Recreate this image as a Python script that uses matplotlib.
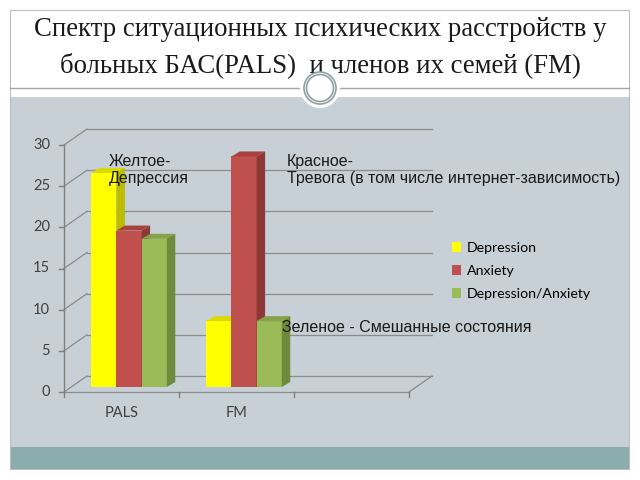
import matplotlib
matplotlib.use("Agg")
import matplotlib.pyplot as plt
from matplotlib.patches import Rectangle, Circle, Polygon, Patch
from matplotlib.transforms import Affine2D, IdentityTransform
from matplotlib.lines import Line2D

# ---------------- data ----------------
categories = ["PALS", "FM", ""]
series_names = ["Depression", "Anxiety", "Depression/Anxiety"]
depression = [26, 8]
anxiety = [19, 28]
mixed = [18, 8]
y_ticks = [0, 5, 10, 15, 20, 25, 30]

title_lines = ["Спектр ситуационных психических расстройств у",
               "больных БАС(PALS)  и членов их семей (FM)"]
note_yellow = "Желтое-\nДепрессия"
note_red = "Красное-\nТревога (в том числе интернет-зависимость)"
note_green = "Зеленое - Смешанные состояния"

front_cols = ["#FFFF00", "#C0504D", "#9BBB59"]
top_cols = ["#DADA00", "#A8423F", "#86A34B"]
side_cols = ["#BDBD00", "#8E3835", "#6E8A3C"]

W, H = 640, 480
fig = plt.figure(figsize=(6.4, 4.8), dpi=100)
fig.patch.set_facecolor("white")

# ---------------- slide background (pixel coords) ----------------
bg = fig.add_axes([0, 0, 1, 1], zorder=0)
bg.set_xlim(0, W)
bg.set_ylim(H, 0)
bg.axis("off")
bg.add_patch(Rectangle((10, 97), 619, 350, facecolor="#C6D0D6", edgecolor="none"))
bg.add_patch(Rectangle((10, 447), 619, 22, facecolor="#89ACAC", edgecolor="none"))
bg.add_patch(Rectangle((10, 10), 619, 459, facecolor="none", edgecolor="#BDBDBD", lw=0.8))
bg.plot([10, 629], [88, 88], color="#A8A8A8", lw=1.0)
bg.add_patch(Circle((320, 88), 20, facecolor="white", edgecolor="none", zorder=3))
bg.add_patch(Circle((320, 88), 16, facecolor="white", edgecolor="#8FA0A0", lw=1.2, zorder=4))
bg.add_patch(Circle((320, 88), 13.5, facecolor="white", edgecolor="#8FA0A0", lw=1.2, zorder=4))
bg.text(320, 30, title_lines[0], ha="center", va="center",
        fontsize=19.3, family="Liberation Serif", color="#1A1A1A")
bg.text(320, 65, title_lines[1], ha="center", va="center",
        fontsize=19.3, family="Liberation Serif", color="#1A1A1A")

# ---------------- chart axes (front plane) ----------------
x0, x1, yb, yt = 64, 409, 392, 145
ax = fig.add_axes([x0 / W, (H - yb) / H, (x1 - x0) / W, (yb - yt) / H], zorder=1)
ax.set_xlim(0, 3)
ax.set_ylim(0, 30)
ax.axis("off")
ax.patch.set_alpha(0)

fig.canvas.draw()
back = (23, 16)      # back wall offset (display px)
bdepth = (7.5, 5)    # bar front offset
bthick = (8.5, 5)    # bar thickness

def D(x, y, off=(0, 0)):
    px, py = ax.transData.transform((x, y))
    return (px + off[0], py + off[1])

grid_c = "#8C8C8C"
def seg(p, q, **kw):
    ax.add_line(Line2D([p[0], q[0]], [p[1], q[1]], transform=IdentityTransform(),
                       clip_on=False, **kw))

# back wall gridlines and left wall lines
for v in y_ticks:
    seg(D(0, v), D(0, v, back), color=grid_c, lw=0.9)
    seg(D(0, v, back), D(3, v, back), color=grid_c, lw=0.9)
# floor
seg(D(0, 0), D(3, 0), color=grid_c, lw=0.9)
seg(D(3, 0), D(3, 0, back), color=grid_c, lw=0.9)
# y axis
seg(D(0, 0), D(0, 30), color="#7F7F7F", lw=1.0)
for v in y_ticks:
    p = D(0, v)
    seg((p[0] - 5, p[1]), p, color="#7F7F7F", lw=1.0)
    ax.text(p[0] - 14, p[1], str(v), transform=IdentityTransform(), ha="right",
            va="center", fontsize=10.5, family="Lato", color="#404040")
for i in range(4):
    p = D(i, 0)
    seg(p, (p[0], p[1] - 5), color="#7F7F7F", lw=1.0)
for i, c in enumerate(categories):
    if c:
        p = D(i + 0.5, 0)
        ax.text(p[0], p[1] - 21, c, transform=IdentityTransform(), ha="center",
                va="center", fontsize=10.5, family="Lato", color="#404040")

# bars
values = [depression, anxiety, mixed]
bw = 0.219
front_tr = ax.transData + Affine2D().translate(*bdepth)
for g in range(2):
    for s in range(3):
        v = values[s][g]
        xl = g + 0.5 + (s - 1) * bw - bw / 2
        ax.bar(xl, v, width=bw, align="edge", color=front_cols[s],
               edgecolor="none", transform=front_tr, clip_on=False,
               zorder=2 + g * 10 + s * 3)
        fl = D(xl, v, bdepth)
        fr = D(xl + bw, v, bdepth)
        br = (fr[0] + bthick[0], fr[1] + bthick[1])
        bl = (fl[0] + bthick[0], fl[1] + bthick[1])
        ax.add_patch(Polygon([fl, fr, br, bl], closed=True, facecolor=top_cols[s],
                             edgecolor="none", transform=IdentityTransform(),
                             clip_on=False, zorder=2 + g * 10 + s * 3 + 1))
        b0 = D(xl + bw, 0, bdepth)
        ax.add_patch(Polygon([b0, fr, br, (b0[0] + bthick[0], b0[1] + bthick[1])],
                             closed=True, facecolor=side_cols[s], edgecolor="none",
                             transform=IdentityTransform(), clip_on=False,
                             zorder=2 + g * 10 + s * 3 + 1))

# legend
handles = [Patch(facecolor=c, edgecolor="none") for c in front_cols]
fig.legend(handles, series_names, loc="center left",
           bbox_to_anchor=(452 / W, 1 - 271 / H), frameon=False,
           handlelength=0.62, handleheight=0.62, handletextpad=0.45,
           labelspacing=0.78, prop={"family": "Lato", "size": 10.2},
           borderaxespad=0, borderpad=0)

# slide notes
ov = fig.add_axes([0, 0, 1, 1], zorder=5)
ov.set_xlim(0, W)
ov.set_ylim(H, 0)
ov.axis("off")
ov.patch.set_alpha(0)
ov.text(109, 154, note_yellow, ha="left", va="top", fontsize=11.5,
        family="Liberation Sans", color="#1A1A1A", linespacing=1.15)
ov.text(287, 154, note_red, ha="left", va="top", fontsize=11.5,
        family="Liberation Sans", color="#1A1A1A", linespacing=1.15)
ov.text(282, 328, note_green, ha="left", va="center", fontsize=11.5,
        family="Liberation Sans", color="#1A1A1A")

fig.savefig("out.png", dpi=100)
